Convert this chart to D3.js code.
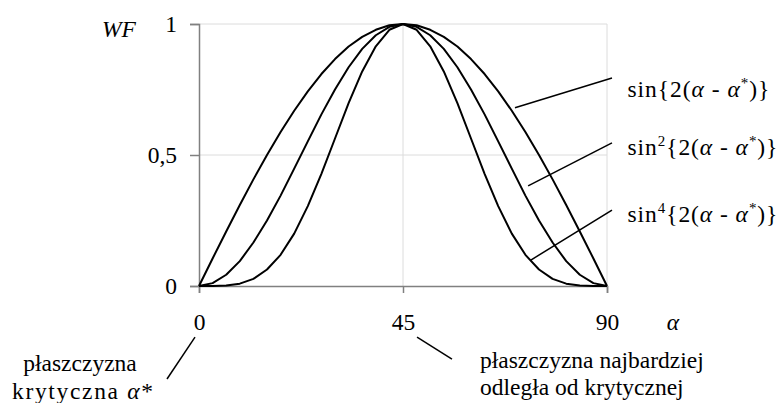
<!DOCTYPE html>
<html>
<head>
<meta charset="utf-8">
<script src="https://cdn.jsdelivr.net/npm/d3@7"></script>
</head>
<body style="margin:0">
<script>
// angle alpha (deg) and the three weighting functions
const alpha = [0, 3, 6, 9, 12, 15, 18, 21, 24, 27, 30, 33, 36, 39, 42, 45,
  48, 51, 54, 57, 60, 63, 66, 69, 72, 75, 78, 81, 84, 87, 90];
const wfSin = [0, .105, .208, .309, .407, .500, .588, .669, .743, .809, .866, .914, .951, .978, .995, 1,
  .995, .978, .951, .914, .866, .809, .743, .669, .588, .500, .407, .309, .208, .105, 0];
const wfSin2 = [0, .011, .043, .095, .166, .250, .345, .448, .552, .655, .750, .835, .905, .957, .989, 1,
  .989, .957, .905, .835, .750, .655, .552, .448, .345, .250, .166, .095, .043, .011, 0];
const wfSin4 = [0, .000, .002, .009, .027, .063, .119, .200, .305, .428, .563, .698, .819, .915, .978, 1,
  .978, .915, .819, .698, .563, .428, .305, .200, .119, .063, .027, .009, .002, .000, 0];
const xTicks = [0, 45, 90];
const yTicks = [0, 0.5, 1];
const yTickLabels = ["0", "0,5", "1"];

const width = 783, height = 403;
const serif = "Liberation Serif";
const fs = 23.5;
const svg = d3.select("body").append("svg")
  .attr("width", width)
  .attr("height", height)
  .style("font-family", serif);

const x = d3.scaleLinear().domain([0, 90]).range([199, 607]);
const y = d3.scaleLinear().domain([0, 1]).range([286, 24]);

function label(sel, size) {
  return sel.attr("font-family", serif).attr("font-size", size).attr("fill", "#000");
}

// grid
svg.append("g").selectAll("line")
  .data(yTicks.filter(d => d > 0))
  .join("line")
  .attr("x1", x(0)).attr("x2", x(90))
  .attr("y1", d => y(d)).attr("y2", d => y(d))
  .attr("stroke", "#dcdcdc").attr("stroke-width", 1);
svg.append("g").selectAll("line")
  .data(xTicks.filter(d => d > 0))
  .join("line")
  .attr("x1", d => x(d)).attr("x2", d => x(d))
  .attr("y1", y(0)).attr("y2", y(1))
  .attr("stroke", "#dcdcdc").attr("stroke-width", 1);

// axes
const xAxis = svg.append("g")
  .attr("transform", `translate(0,${y(0)})`)
  .call(d3.axisBottom(x).tickValues(xTicks).tickSize(7).tickPadding(20).tickFormat(d3.format("d")));
const yAxis = svg.append("g")
  .attr("transform", `translate(${x(0)},0)`)
  .call(d3.axisLeft(y).tickValues(yTicks).tickSize(9).tickPadding(13)
    .tickFormat((d, i) => yTickLabels[i]));
[xAxis, yAxis].forEach(g => {
  g.attr("font-family", serif).attr("font-size", fs);
  g.select(".domain").attr("stroke", "#808080").attr("stroke-width", 1.5);
  g.selectAll(".tick line").attr("stroke", "#808080").attr("stroke-width", 1.5);
  label(g.selectAll(".tick text"), fs);
});
xAxis.selectAll(".tick text").attr("dy", "0.71em");
yAxis.selectAll(".tick text").attr("dy", "0.33em");

// curves
const line = d3.line()
  .x((d, i) => x(alpha[i]))
  .y(d => y(d));
[wfSin, wfSin2, wfSin4].forEach(s => {
  svg.append("path")
    .datum(s)
    .attr("d", line)
    .attr("fill", "none")
    .attr("stroke", "#000")
    .attr("stroke-width", 2)
    .attr("stroke-linejoin", "round");
});

// axis titles
label(svg.append("text"), fs)
  .attr("x", 102).attr("y", 37)
  .attr("font-style", "italic")
  .text("WF");
label(svg.append("text"), fs)
  .attr("x", 673).attr("y", 330)
  .attr("text-anchor", "middle")
  .attr("font-style", "italic")
  .text("α");

// leader lines to the curve labels (data units)
const leaders = [
  { from: [69.7, 0.68], to: [91.1, 0.794] },
  { from: [72.6, 0.382], to: [91.1, 0.546] },
  { from: [73.2, 0.099], to: [91.1, 0.290] }
];
const labelPowers = ["", "2", "4"];
const labelBaselines = [0.72, 0.5, 0.245];
const labelWidths = [142, 150, 150];

svg.append("g").selectAll("line")
  .data(leaders)
  .join("line")
  .attr("x1", d => x(d.from[0])).attr("y1", d => y(d.from[1]))
  .attr("x2", d => x(d.to[0])).attr("y2", d => y(d.to[1]))
  .attr("stroke", "#000").attr("stroke-width", 1.5);

labelPowers.forEach((p, i) => {
  const t = label(svg.append("text"), fs)
    .attr("x", x(94.5)).attr("y", y(labelBaselines[i]))
    .attr("textLength", labelWidths[i])
    .attr("lengthAdjust", "spacing");
  t.append("tspan").text("sin");
  if (p) t.append("tspan").attr("font-size", 15).attr("dy", -9).text(p);
  t.append("tspan").attr("dy", p ? 9 : 0).text("{2(");
  t.append("tspan").attr("font-style", "italic").text("α");
  t.append("tspan").text(" - ");
  t.append("tspan").attr("font-style", "italic").text("α");
  t.append("tspan").attr("font-size", 15).attr("dy", -9).text("*");
  t.append("tspan").attr("dy", 9).text(")}");
});

// annotations below the x axis
svg.append("line")
  .attr("x1", x(-7.06)).attr("y1", y(-0.355))
  .attr("x2", x(-0.88)).attr("y2", y(-0.195))
  .attr("stroke", "#000").attr("stroke-width", 1.5);
svg.append("line")
  .attr("x1", x(48.1)).attr("y1", y(-0.195))
  .attr("x2", x(55.8)).attr("y2", y(-0.279))
  .attr("stroke", "#000").attr("stroke-width", 1.5);

label(svg.append("text"), fs)
  .attr("text-anchor", "middle")
  .attr("x", 80).attr("y", 371)
  .text("płaszczyzna");
const l2 = label(svg.append("text"), fs)
  .attr("x", 12).attr("y", 399)
  .attr("textLength", 141)
  .attr("lengthAdjust", "spacing");
l2.append("tspan").text("krytyczna ");
l2.append("tspan").attr("font-style", "italic").text("α");
l2.append("tspan").text("*");

const rightNote = label(svg.append("text"), fs);
rightNote.append("tspan").attr("x", 480).attr("y", 368).text("płaszczyzna najbardziej");
rightNote.append("tspan").attr("x", 480).attr("y", 395).text("odległa od krytycznej");
</script>
</body>
</html>
